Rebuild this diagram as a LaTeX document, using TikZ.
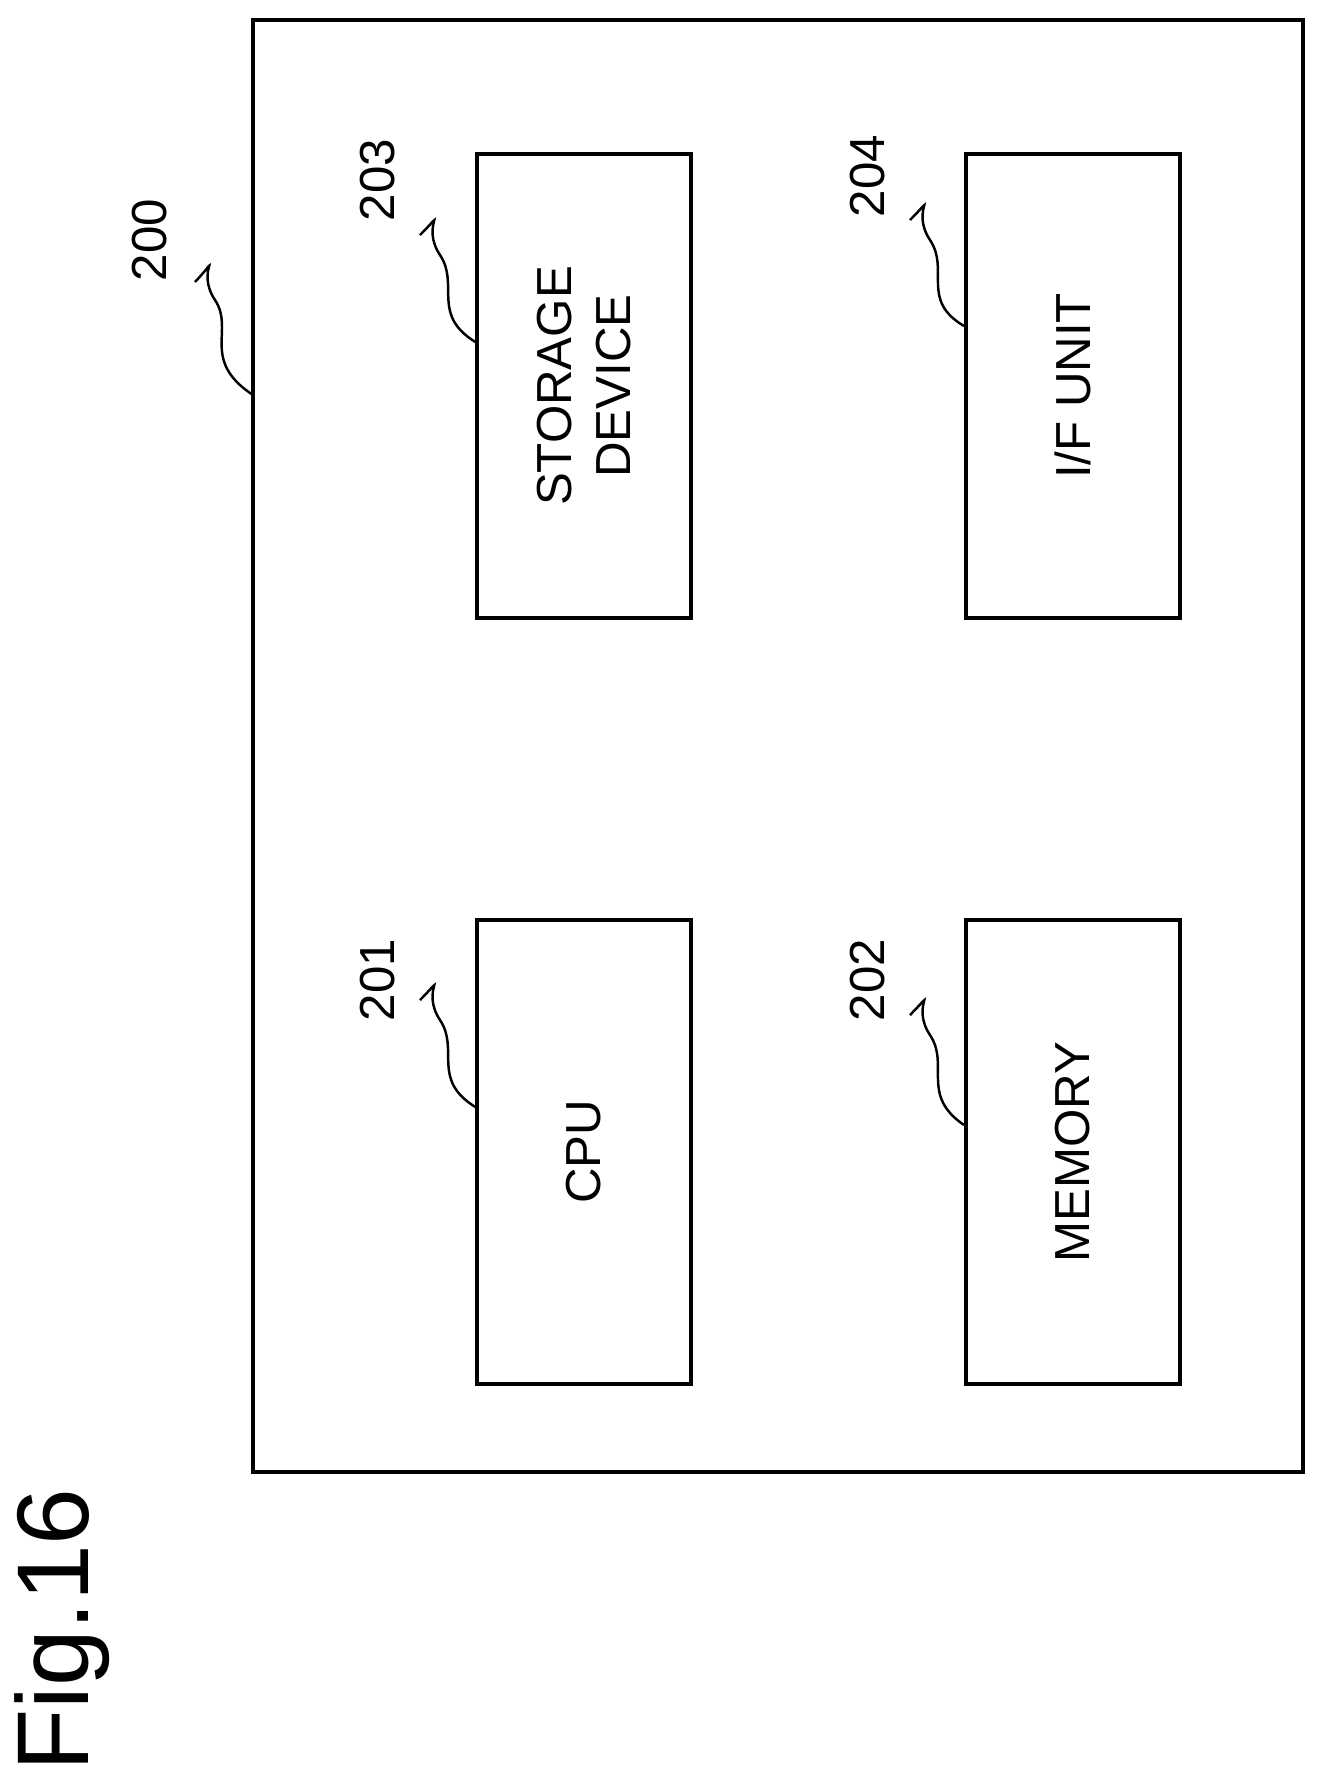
\documentclass[tikz,border=0pt]{standalone}
\usepackage{fontspec}
\setmainfont{Liberation Sans}
\usetikzlibrary{positioning}
\begin{document}
\begin{tikzpicture}[x=0.01cm,y=-0.01cm]
\tikzset{unit/.style={draw,line width=1.2pt,minimum width=4.63cm,minimum height=2.14cm,rotate=90,font=\fontsize{14}{17}\selectfont,align=center},
  lbl/.style={rotate=90,font=\fontsize{14}{16}\selectfont},
  leader/.style={line width=0.7pt}}
\useasboundingbox (0,0) rectangle (1337,1781);

% outer frame
\draw[line width=1.4pt] (253,20) rectangle (1303,1472);

\node[unit] (cpu) at (584,1152) {CPU};
\node[unit] (mem) at (1073,1152) {MEMORY};
\node[unit] (stor) at (584,386) {STORAGE\\DEVICE};
\node[unit] (ifu) at (1073,386) {I/F UNIT};

\node[lbl] (l200) at (150,240) {200};
\node[lbl] (l201) at (378,980) {201};
\node[lbl] (l202) at (868,980) {202};
\node[lbl] (l203) at (378,180) {203};
\node[lbl] (l204) at (868,176) {204};

\node[rotate=90,font=\fontsize{29}{32}\selectfont] (fig) at (62,1630) {Fig.16};

\coordinate (p200) at (253,395);
\coordinate (p201) at (477,1108);
\coordinate (p202) at (964,1125);
\coordinate (p203) at (477,343);
\coordinate (p204) at (964,326);

\draw[leader] (p200) .. controls (200,360) and (235,330) .. (215,300) .. controls (195,270) and (225,250) .. (195,282);
\draw[leader] (p201) .. controls (430,1080) and (460,1050) .. (440,1020) .. controls (420,990) and (450,970) .. (420,1000);
\draw[leader] (p202) .. controls (920,1095) and (950,1065) .. (930,1035) .. controls (910,1005) and (940,985) .. (910,1015);
\draw[leader] (p203) .. controls (430,315) and (460,285) .. (440,255) .. controls (420,225) and (450,205) .. (420,235);
\draw[leader] (p204) .. controls (920,300) and (950,270) .. (930,240) .. controls (910,210) and (940,190) .. (910,220);
\end{tikzpicture}
\end{document}
